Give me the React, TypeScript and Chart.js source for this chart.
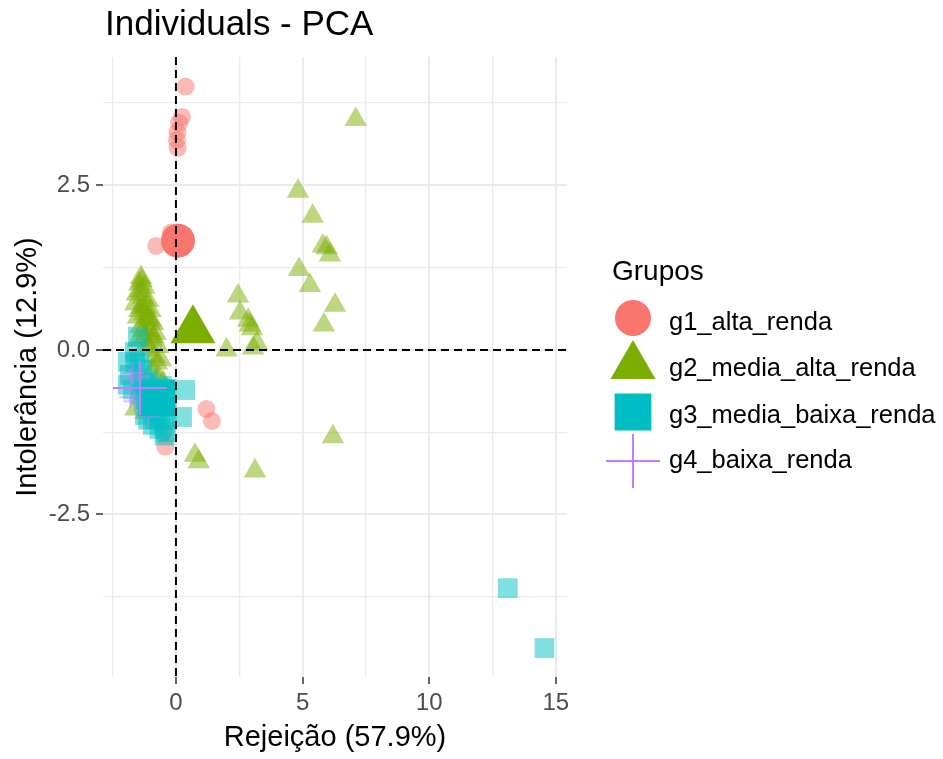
import React, { useEffect, useRef } from "react";
import { Chart, registerables } from "chart.js";

Chart.register(...registerables);

const chartTitle = "Individuals - PCA";
const xAxisTitle = "Rejeição (57.9%)";
const yAxisTitle = "Intolerância (12.9%)";
const legendTitle = "Grupos";
const groupNames = ["g1_alta_renda", "g2_media_alta_renda", "g3_media_baixa_renda", "g4_baixa_renda"];

const xTicks = [-2.5, 0, 2.5, 5, 7.5, 10, 12.5, 15];
const yTicks = [-3.75, -2.5, -1.25, 0, 1.25, 2.5, 3.75];
const xMajor = [0, 5, 10, 15];
const yMajor = [-2.5, 0, 2.5];

// individuals
const g1Points: number[][] = [
  [0.38, 4.0], [0.24, 3.54], [0.12, 3.45], [0.06, 3.31], [0.04, 3.19], [0.07, 3.07],
  [-0.2, 1.78], [-0.78, 1.58], [0.1, 1.72], [0.25, 1.58],
  [1.2, -0.9], [1.42, -1.08], [-0.42, -1.47], [-0.5, -1.25],
];
const g2Points: number[][] = [
  [7.1, 3.5], [4.82, 2.41], [5.4, 2.03], [5.8, 1.58], [5.95, 1.55], [6.08, 1.44],
  [4.86, 1.22], [5.29, 0.98], [6.28, 0.68], [5.84, 0.38], [6.2, -1.32], [3.12, -1.84],
  [2.45, 0.82], [2.53, 0.56], [2.85, 0.45], [2.92, 0.38], [3.0, 0.32], [2.0, 0.0],
  [3.05, 0.03], [3.2, 0.1], [0.75, -1.6], [0.9, -1.7],
  [-1.38, 1.1], [-1.45, 1.0], [-1.25, 0.95], [-1.55, 0.85], [-1.3, 0.8], [-1.1, 0.75],
  [-1.6, 0.7], [-1.35, 0.65], [-1.0, 0.6], [-1.5, 0.5], [-1.2, 0.45], [-0.9, 0.4],
  [-1.4, 0.35], [-1.05, 0.3], [-0.8, 0.25], [-1.25, 0.2], [-0.95, 0.15], [-0.7, 0.05],
  [-1.1, 0.0], [-0.85, -0.1], [-0.6, -0.15], [-0.95, -0.3], [-0.7, -0.4], [-0.5, -0.5],
  [-1.6, -0.9], [-1.2, -0.95], [-0.8, -0.8],
  [-1.4, 0.9], [-1.2, 0.65], [-1.45, 0.6], [-1.1, 0.5], [-1.3, 0.3], [-0.9, 0.2],
  [-1.15, 0.1], [-0.75, -0.2], [-0.9, -0.55], [-0.65, -0.65], [-1.5, 0.15], [-1.35, 1.05],
  [-1.0, 0.45], [-1.25, 0.55],
];
const g3Points: number[][] = [
  [13.1, -3.62], [14.55, -4.53], [0.36, -0.61], [0.24, -1.02],
  [-1.5, 0.2], [-1.62, -0.03], [-1.9, -0.18], [-1.82, -0.38], [-1.34, -0.3], [-1.9, -0.53],
  [-1.1, -0.45], [-1.42, -0.68], [-0.83, -0.61], [-0.43, -0.68], [-0.36, -0.84], [-1.03, -0.84],
  [-0.63, -0.94], [-1.22, -0.99], [-0.36, -1.06], [-0.91, -1.14], [-0.4, -1.25], [-1.1, -1.06],
  [-1.6, -0.2], [-1.3, -0.5], [-1.0, -0.6], [-0.7, -0.8], [-0.5, -1.0], [-0.8, -1.05],
  [-1.2, -0.75], [-0.55, -0.55], [-1.7, -0.6], [-0.45, -1.3], [-0.65, -1.2], [-1.45, -0.15],
];
const g4Points: number[][] = [
  [-1.7, -0.35], [-1.78, -0.45], [-1.8, -0.72], [-1.65, -0.78], [-1.1, -1.02], [-1.45, -0.4],
];

// group means
const g1Mean: number[] = [0.08, 1.66];
const g2Mean: number[] = [0.67, 0.3];
const g3Mean: number[] = [-0.75, -0.73];
const g4Mean: number[] = [-1.42, -0.58];

const colors = ["248,118,109", "124,174,0", "0,191,196", "199,124,255"];
const styles = ["circle", "triangle", "rect", "cross"];
const smallRadius = [9, 13, 14, 11];
const bigRadius = [17, 26, 26, 27];
const legendRadius = [18, 26, 26, 27];

const toXY = (pts: number[][]) => pts.map((p) => ({ x: p[0], y: p[1] }));

function drawMarker(ctx: CanvasRenderingContext2D, style: string, x: number, y: number, r: number, color: string) {
  ctx.save();
  ctx.fillStyle = color;
  ctx.strokeStyle = color;
  ctx.beginPath();
  if (style === "circle") {
    ctx.arc(x, y, r, 0, Math.PI * 2);
    ctx.fill();
  } else if (style === "triangle") {
    let a = 0;
    ctx.moveTo(x + Math.sin(a) * r, y - Math.cos(a) * r);
    a += (2 * Math.PI) / 3;
    ctx.lineTo(x + Math.sin(a) * r, y - Math.cos(a) * r);
    a += (2 * Math.PI) / 3;
    ctx.lineTo(x + Math.sin(a) * r, y - Math.cos(a) * r);
    ctx.closePath();
    ctx.fill();
  } else if (style === "rect") {
    const s = Math.SQRT1_2 * r;
    ctx.rect(x - s, y - s, 2 * s, 2 * s);
    ctx.fill();
  } else {
    ctx.lineWidth = 2;
    ctx.moveTo(x - r, y);
    ctx.lineTo(x + r, y);
    ctx.moveTo(x, y - r);
    ctx.lineTo(x, y + r);
    ctx.stroke();
  }
  ctx.restore();
}

const FONT = '"Liberation Sans", Arial, sans-serif';

const decorPlugin = {
  id: "decor",
  afterDatasetsDraw(chart: any) {
    const { ctx, chartArea, scales } = chart;
    const x0 = scales.x.getPixelForValue(0);
    const y0 = scales.y.getPixelForValue(0);
    ctx.save();
    ctx.setLineDash([8, 5]);
    ctx.lineWidth = 2;
    ctx.strokeStyle = "#000000";
    ctx.beginPath();
    ctx.moveTo(x0, chartArea.top);
    ctx.lineTo(x0, chartArea.bottom);
    ctx.moveTo(chartArea.left, y0);
    ctx.lineTo(chartArea.right, y0);
    ctx.stroke();
    ctx.restore();
  },
  afterDraw(chart: any) {
    const { ctx } = chart;
    ctx.save();
    ctx.fillStyle = "#000000";
    ctx.font = `35px ${FONT}`;
    ctx.textBaseline = "alphabetic";
    ctx.textAlign = "left";
    ctx.fillText(chartTitle, 105, 35);

    ctx.font = `28px ${FONT}`;
    ctx.textBaseline = "middle";
    ctx.fillText(legendTitle, 612, 272);

    const keyY = [318, 366, 412, 461];
    const textY = [323, 369, 416, 461];
    ctx.font = `25.5px ${FONT}`;
    for (let i = 0; i < 4; i++) {
      drawMarker(ctx, styles[i], 633, keyY[i], legendRadius[i], `rgb(${colors[i]})`);
      ctx.fillStyle = "#000000";
      ctx.fillText(groupNames[i], 669, textY[i]);
    }
    ctx.restore();
  },
};

export default function App() {
  const canvasRef = useRef<HTMLCanvasElement | null>(null);

  useEffect(() => {
    const canvas = canvasRef.current;
    if (!canvas) return;
    const groups = [g1Points, g2Points, g3Points, g4Points];
    const means = [g1Mean, g2Mean, g3Mean, g4Mean];
    const datasets: any[] = [];
    groups.forEach((pts, i) => {
      const isCross = styles[i] === "cross";
      datasets.push({
        label: groupNames[i],
        data: toXY(pts),
        pointStyle: styles[i],
        pointRadius: smallRadius[i],
        backgroundColor: `rgba(${colors[i]},0.5)`,
        borderColor: `rgba(${colors[i]},0.5)`,
        borderWidth: isCross ? 2 : 0,
        order: 8 - i,
      });
    });
    means.forEach((m, i) => {
      const isCross = styles[i] === "cross";
      datasets.push({
        label: groupNames[i] + " mean",
        data: [{ x: m[0], y: m[1] }],
        pointStyle: styles[i],
        pointRadius: bigRadius[i],
        backgroundColor: `rgb(${colors[i]})`,
        borderColor: `rgb(${colors[i]})`,
        borderWidth: isCross ? 2 : 0,
        order: 4 - i,
      });
    });

    const chart = new Chart(canvas, {
      type: "scatter",
      data: { datasets },
      plugins: [decorPlugin],
      options: {
        animation: false,
        responsive: false,
        events: [],
        layout: { padding: { left: 0, top: 57, right: 376, bottom: 0 } },
        plugins: { legend: { display: false }, tooltip: { enabled: false }, title: { display: false } },
        scales: {
          x: {
            type: "linear",
            min: -2.88,
            max: 15.44,
            afterBuildTicks: (scale: any) => {
              scale.ticks = xTicks.map((v) => ({ value: v }));
            },
            afterFit: (scale: any) => {
              scale.height = 82;
            },
            border: { display: false },
            grid: {
              color: "#EBEBEB",
              lineWidth: (c: any) => (c.tick && xMajor.includes(c.tick.value) ? 2 : 1.3),
              drawTicks: true,
              tickLength: 7,
              tickWidth: 1.5,
              tickColor: (c: any) => (c.tick && xMajor.includes(c.tick.value) ? "#333333" : "rgba(0,0,0,0)"),
            },
            ticks: {
              autoSkip: false,
              maxRotation: 0,
              padding: 5,
              color: "#4D4D4D",
              font: { family: FONT, size: 24 },
              callback: (v: any) => (xMajor.includes(Number(v)) ? String(v) : ""),
            },
            title: {
              display: true,
              text: xAxisTitle,
              color: "#000000",
              font: { family: FONT, size: 29 },
              padding: { top: 0, bottom: 4 },
            },
          },
          y: {
            type: "linear",
            min: -4.97,
            max: 4.45,
            afterBuildTicks: (scale: any) => {
              scale.ticks = yTicks.map((v) => ({ value: v }));
            },
            afterFit: (scale: any) => {
              scale.width = 103;
            },
            border: { display: false },
            grid: {
              color: "#EBEBEB",
              lineWidth: (c: any) => (c.tick && yMajor.includes(c.tick.value) ? 2 : 1.3),
              drawTicks: true,
              tickLength: 7,
              tickWidth: 1.5,
              tickColor: (c: any) => (c.tick && yMajor.includes(c.tick.value) ? "#333333" : "rgba(0,0,0,0)"),
            },
            ticks: {
              autoSkip: false,
              padding: 6,
              color: "#4D4D4D",
              font: { family: FONT, size: 24 },
              callback: (v: any) => (yMajor.includes(Number(v)) ? Number(v).toFixed(1) : ""),
            },
            title: {
              display: true,
              text: yAxisTitle,
              color: "#000000",
              font: { family: FONT, size: 29 },
              padding: { top: 11, bottom: 0 },
            },
          },
        },
      },
    });
    return () => chart.destroy();
  }, []);

  return (
    <div style={{ position: "fixed", left: 0, top: 0, width: 943, height: 759, background: "#ffffff" }}>
      <canvas ref={canvasRef} width={943} height={759} style={{ display: "block" }} />
    </div>
  );
}
